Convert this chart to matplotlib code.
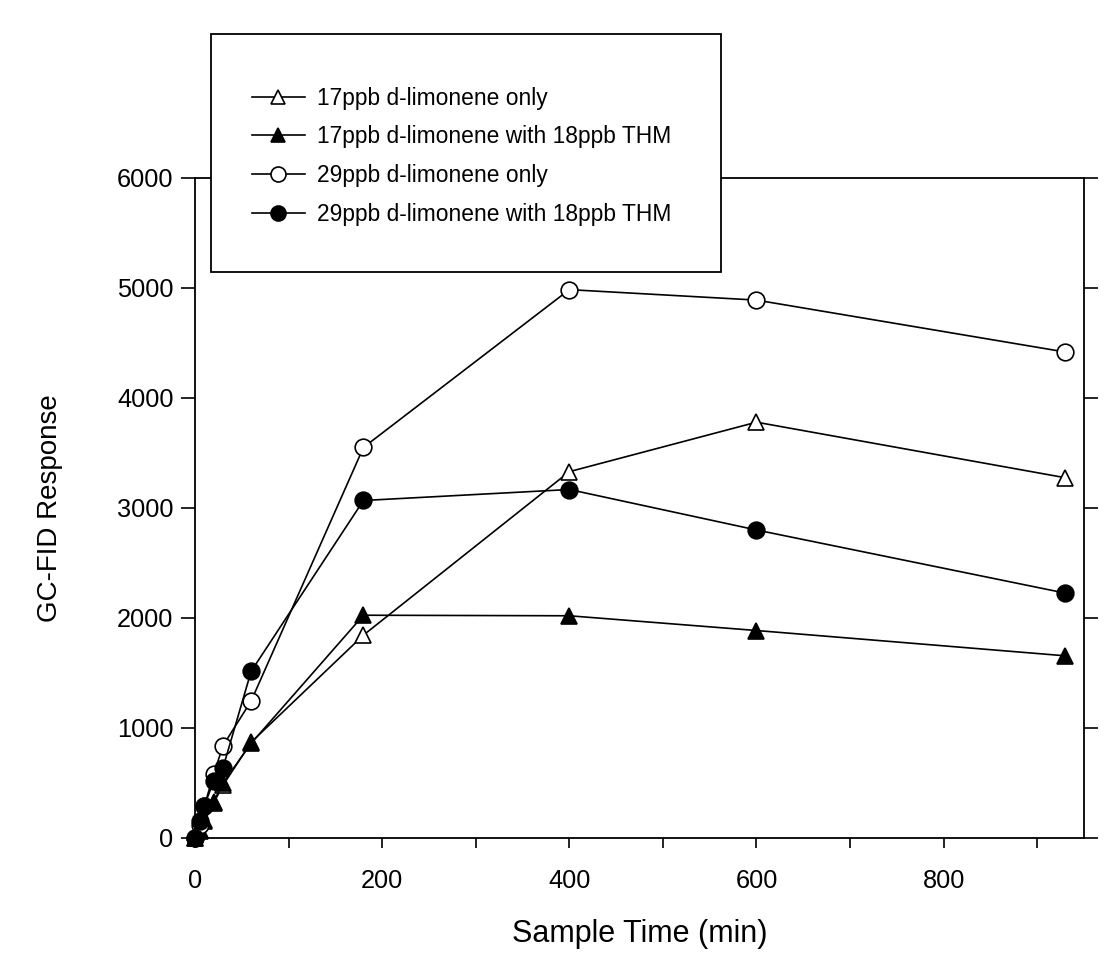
import matplotlib
matplotlib.use("Agg")
import matplotlib.pyplot as plt
from matplotlib.patches import Rectangle
from matplotlib.ticker import MultipleLocator

plt.rcParams['font.family'] = ['Liberation Sans', 'DejaVu Sans']

# Sample times (min)
time = [0, 5, 10, 20, 30, 60, 180, 400, 600, 930]

# GC-FID response for each series
lim17_only = [0, 60, 150, 320, 480, 870, 1844, 3330, 3780, 3275]
lim17_thm = [0, 70, 165, 330, 500, 860, 2025, 2020, 1886, 1656]
lim29_only = [0, 120, 290, 580, 840, 1245, 3550, 4985, 4890, 4418]
lim29_thm = [0, 150, 290, 520, 640, 1515, 3068, 3168, 2800, 2226]

labels = ["17ppb d-limonene only",
          "17ppb d-limonene with 18ppb THM",
          "29ppb d-limonene only",
          "29ppb d-limonene with 18ppb THM"]

fig = plt.figure(figsize=(11.18, 9.58), dpi=100)
ax = fig.add_axes([0.1744, 0.1253, 0.7952, 0.6889])

series = [(lim17_only, '^', 'white', 11),
          (lim17_thm, '^', 'black', 11),
          (lim29_only, 'o', 'white', 12),
          (lim29_thm, 'o', 'black', 12)]
handles = []
for (vals, mk, fc, ms), lab in zip(series, labels):
    h, = ax.plot(time, vals, color='black', lw=1.2, marker=mk, ms=ms,
                 markerfacecolor=fc, markeredgecolor='black', mew=1.2,
                 label=lab, clip_on=False)
    handles.append(h)

ax.set_xlim(0, 950)
ax.set_ylim(0, 6000)
ax.xaxis.set_major_locator(MultipleLocator(200))
ax.xaxis.set_minor_locator(MultipleLocator(100))
ax.yaxis.set_major_locator(MultipleLocator(1000))

ax.tick_params(axis='x', which='both', direction='out', length=7, width=1.2,
               labelsize=18.3, pad=15, top=False)
ax.tick_params(axis='y', which='major', direction='out', length=10, width=1.2,
               labelsize=18.3, pad=5.5, left=True, right=True)
for sp in ax.spines.values():
    sp.set_linewidth(1.3)

ax.set_xlabel("Sample Time (min)", fontsize=22, va='center')
ax.set_ylabel("GC-FID Response", fontsize=20, va='center')
ax.xaxis.set_label_coords(0.5, -0.1454)
ax.yaxis.set_label_coords(-0.163, 0.5)

# legend box drawn over the top spine
box = Rectangle((0.1887, 0.7161), 0.4562, 0.2484, transform=fig.transFigure,
                facecolor='white', edgecolor='black', lw=1.3, zorder=1)
fig.patches.append(box)

leg = fig.legend(handles=handles, loc='upper left',
                 bbox_to_anchor=(0.2254, 0.9095), frameon=False,
                 fontsize=16.4, borderpad=0, borderaxespad=0,
                 handlelength=2.31, handletextpad=0.56, labelspacing=0.69,
                 markerscale=0.9)

fig.savefig("out.png", dpi=100, facecolor='white')
